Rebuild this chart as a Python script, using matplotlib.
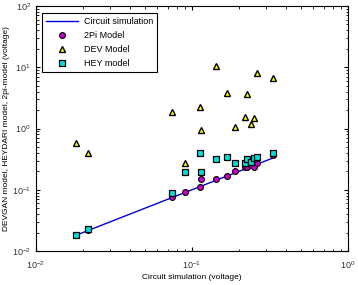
import matplotlib
matplotlib.use('Agg')
import matplotlib.pyplot as plt
import numpy as np

plt.rcParams['font.family'] = ['Liberation Sans', 'DejaVu Sans']
plt.rcParams['mathtext.fontset'] = 'custom'
plt.rcParams['mathtext.rm'] = 'Liberation Sans'

# circuit simulation values (x), shared by all models
circuit = [0.018, 0.0217, 0.0746, 0.090, 0.113, 0.114, 0.143, 0.168, 0.190,
           0.220, 0.224, 0.238, 0.250, 0.262, 0.333]
pi_model = [0.018, 0.022, 0.076, 0.0935, 0.113, 0.149, 0.151, 0.171, 0.203,
            0.239, 0.240, 0.252, 0.239, 0.272, 0.371]
dev_model = [0.57, 0.40, 1.89, 0.27, 2.22, 0.95, 10.6, 3.85, 1.05,
             1.56, 3.67, 1.19, 1.47, 8.17, 6.6]
hey_model = [0.0184, 0.0233, 0.088, 0.198, 0.405, 0.198, 0.319, 0.340, 0.272,
             0.272, 0.319, 0.28, 0.327, 0.348, 0.395]

fig = plt.figure(figsize=(3.58, 2.85), dpi=100)
ax = fig.add_axes([0.0997, 0.119, 0.8723, 0.860])

xs = sorted(circuit)
ax.plot(xs, xs, color='#0000dd', lw=1.0, label='Circuit simulation')
ax.plot(circuit, pi_model, 'o', ms=4.2, mfc='#cc00cc', mec='black', mew=0.8,
        label='2Pi Model')
ax.plot(circuit, dev_model, '^', ms=5, mfc='#ffff00', mec='black', mew=1.0,
        label='DEV Model')
ax.plot(circuit, hey_model, 's', ms=4.2, mfc='#00dddd', mec='black', mew=0.9,
        label='HEY model')

ax.set_xscale('log')
ax.set_yscale('log')
ax.set_xlim(1e-2, 1)
ax.set_ylim(1e-2, 1e2)

ax.tick_params(which='both', direction='in', top=True, right=True,
               labelsize=6.5, labelcolor='#333333')
ax.tick_params(which='major', length=3)
ax.tick_params(which='minor', length=1.8)
ax.tick_params(axis='x', pad=6)
for s in ax.spines.values():
    s.set_linewidth(0.8)

ax.set_xlabel('Circuit simulation (voltage)', fontsize=6, labelpad=2)
ax.set_ylabel('DEVGAN model, HEYDARI model, 2pi-model (voltage)', fontsize=6, labelpad=1)

leg = ax.legend(loc='upper left', fontsize=6.5, fancybox=False, edgecolor='black',
                framealpha=1, handlelength=3.6, borderpad=0.45, labelspacing=0.55,
                handletextpad=0.6, bbox_to_anchor=(0.005, 0.99))
leg.get_frame().set_linewidth(0.8)

fig.savefig('out.png', dpi=100)
